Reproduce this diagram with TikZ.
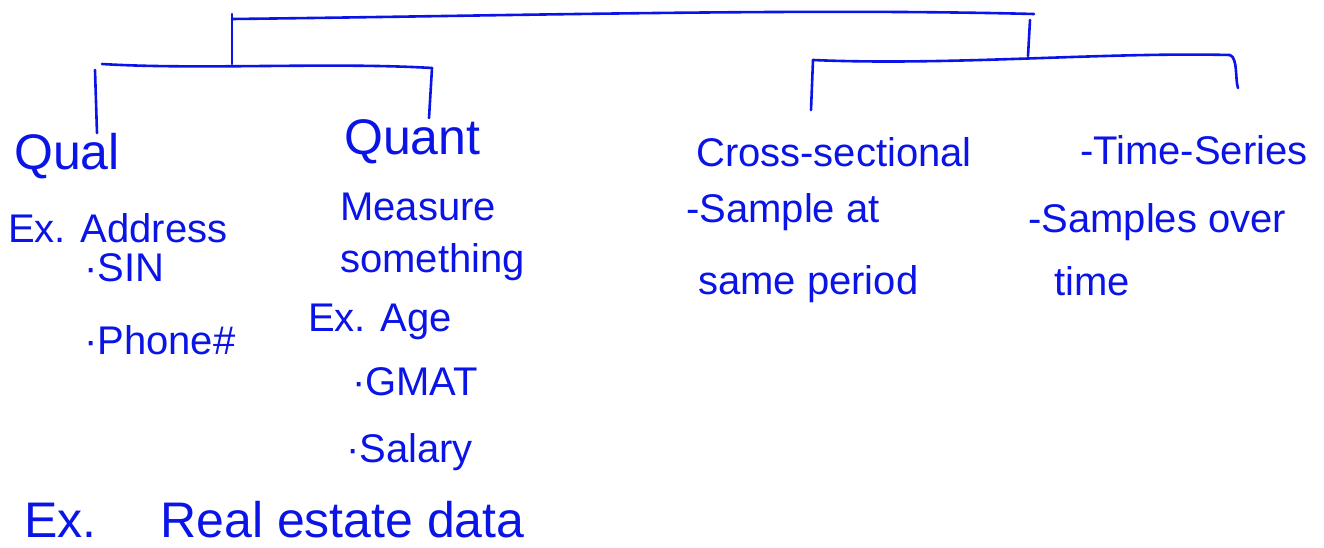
\documentclass[tikz,border=0pt]{standalone}
\usepackage{fontspec}
\setmainfont{Liberation Sans}
\usepackage{xcolor}
\usetikzlibrary{positioning, calc}
\definecolor{ink}{RGB}{10,20,230}

\begin{document}
\begin{tikzpicture}[
  x=1pt, y=-1pt,
  ink line/.style={draw=ink, line width=2.6pt, line cap=round, line join=round},
  head/.style={text=ink, anchor=west, inner sep=0pt, font=\fontsize{50}{56}\selectfont},
  note/.style={text=ink, anchor=west, inner sep=0pt, font=\fontsize{40}{46}\selectfont}
]
\useasboundingbox (0,0) rectangle (1324,548);
%% left branch: qualitative vs quantitative
\node[head] (qual)      at (14,156)  {Qual};
\node[note] (q_addr)    at (8,228)   {Ex. Address};
\node[note] (q_sin)     at (84,268)  {·SIN};
\node[note] (q_phone)   at (84,340)  {·Phone\#};
\node[head] (quant)     at (344,142) {Quant};
\node[note] (m_meas)    at (340,207) {Measure};
\node[note] (m_some)    at (340,262) {something};
\node[note] (m_age)     at (308,322) {Ex. Age};
\node[note] (m_gmat)    at (352,382) {·GMAT};
\node[note] (m_sal)     at (346,452) {·Salary};
%% right branch: cross-sectional vs time series
\node[note] (cross)     at (696,152) {Cross-sectional};
\node[note] (c_sample)  at (686,212) {-Sample at};
\node[note] (c_period)  at (698,284) {same period};
\node[note] (tseries)   at (1080,150) {-Time-Series};
\node[note] (t_sample)  at (1028,222) {-Samples over};
\node[note] (t_time)    at (1054,281) {time};
%% example at the bottom
\node[head] (realest)   at (24,520)  {Ex.\quad\ Real estate data};
%% bracket end points
\coordinate (top_l)   at (232,14);
\coordinate (top_r)   at (1034,14);
\coordinate (left_l)  at (102,64);
\coordinate (left_r)  at (432,68);
\coordinate (right_l) at (813,60);
\coordinate (right_r) at (1230,55);
%% top bracket
\draw[ink line] (top_l) -- (232,64);
\draw[ink line] (232,19) .. controls (500,16) and (800,8) .. (top_r);
\draw[ink line] ($(top_r)+(-4,6)$) -- (1028,56);
%% left bracket: Qual / Quant
\draw[ink line] (left_l) .. controls (200,70) and (330,62) .. (left_r);
\draw[ink line] (95,70) -- (97,133);
\draw[ink line] (left_r) -- (429,118);
%% right bracket: Cross-sectional / Time-Series
\draw[ink line] (right_l) .. controls (950,66) and (1100,52) .. (right_r);
\draw[ink line] (right_l) -- (811,110);
\draw[ink line] (right_r) .. controls (1238,58) and (1235,80) .. (1238,88);
\end{tikzpicture}
\end{document}
